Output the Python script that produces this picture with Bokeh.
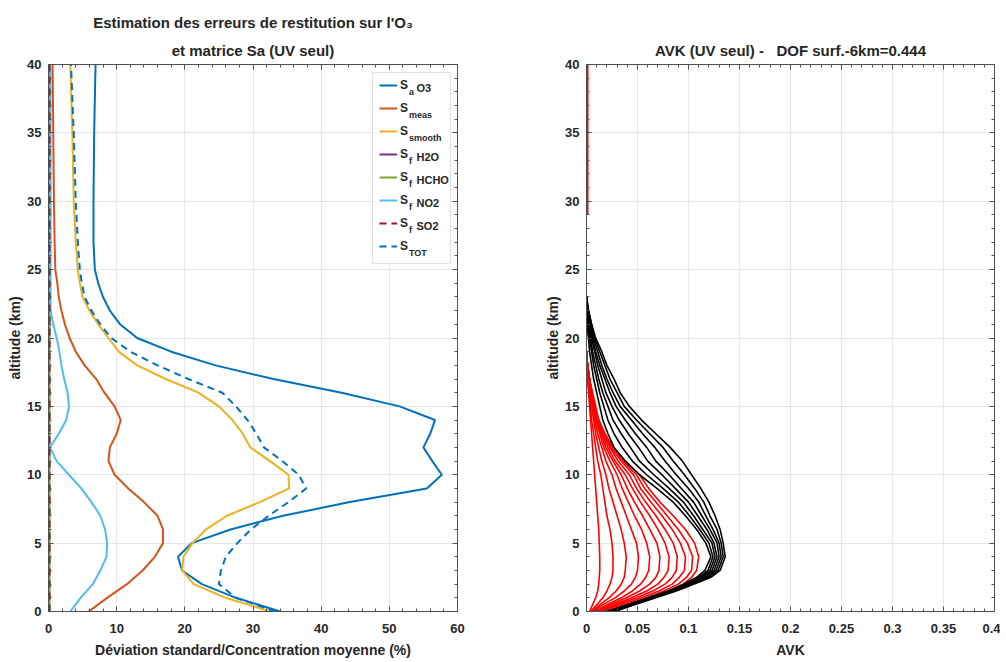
from bokeh.plotting import figure
from bokeh.layouts import row
from bokeh.models import (Range1d, LinearAxis, Legend, LegendItem, Label, Title, BoxAnnotation,
                          SingleIntervalTicker, NumeralTickFormatter, CustomJSTickFormatter)
from bokeh.embed import file_html
from bokeh.resources import INLINE

# ---------------- data : left panel (errors, %) ----------------
altitude_km = [0, 1, 2, 3, 4, 5, 6, 7, 8, 9, 10, 11, 12, 13, 14, 15, 16, 17, 18, 19,
               20, 21, 22, 23, 24, 25, 27, 30, 35, 40]
sa_o3 = [34.0, 27.5, 22.5, 19.6, 19.0, 21.0, 26.7, 34.4, 44.2, 55.5, 57.7, 56.3, 55.0, 56.0,
         56.7, 51.5, 43.0, 33.0, 24.5, 18.0, 13.0, 10.5, 9.0, 8.0, 7.3, 6.8, 6.6, 6.6, 6.7, 6.9]
s_meas = [5.9, 8.6, 11.5, 13.8, 15.6, 16.8, 16.8, 16.0, 14.0, 11.7, 9.7, 8.8, 9.0, 10.0,
          10.6, 9.7, 8.2, 7.0, 5.3, 4.0, 3.1, 2.4, 1.9, 1.5, 1.3, 1.0, 0.9, 0.8, 0.7, 0.6]
s_smooth = [32.6, 26.0, 21.3, 19.6, 19.8, 21.1, 23.1, 26.2, 31.0, 35.3, 35.2, 32.5, 29.6, 28.5,
            27.0, 25.0, 22.0, 17.2, 13.0, 10.3, 8.8, 7.3, 6.0, 5.0, 4.6, 4.3, 4.0, 3.7, 3.5, 3.2]
sf_h2o = [0.1, 0.1, 0.1, 0.1, 0.1, 0.1, 0.1, 0.1, 0.1, 0.1, 0.1, 0.1, 0.1, 0.1, 0.1,
          0.1, 0.1, 0.1, 0.1, 0.1, 0.1, 0.1, 0.1, 0.1, 0.1, 0.1, 0.1, 0.1, 0.1, 0.1]
sf_hcho = [0.15, 0.15, 0.15, 0.15, 0.15, 0.15, 0.15, 0.15, 0.15, 0.15, 0.15, 0.15, 0.15, 0.15, 0.15,
           0.15, 0.15, 0.15, 0.15, 0.15, 0.15, 0.15, 0.15, 0.15, 0.15, 0.15, 0.15, 0.15, 0.15, 0.15]
sf_no2 = [3.2, 4.7, 6.5, 7.6, 8.5, 8.6, 8.3, 7.6, 6.3, 4.8, 3.0, 1.2, 0.2, 1.5, 2.6, 3.0,
          2.8, 2.3, 1.9, 1.6, 1.2, 0.7, 0.3, 0.3, 0.3, 0.3, 0.3, 0.3, 0.3, 0.3]
sf_so2 = [0.15, 0.15, 0.15, 0.15, 0.15, 0.15, 0.15, 0.15, 0.15, 0.15, 0.15, 0.15, 0.15, 0.15, 0.15,
          0.15, 0.15, 0.15, 0.15, 0.15, 0.15, 0.15, 0.15, 0.15, 0.15, 0.15, 0.15, 0.15, 0.15, 0.15]
s_tot = [33.3, 27.5, 25.0, 25.3, 26.0, 27.7, 29.7, 32.3, 35.2, 37.8, 36.7, 34.3, 31.6, 30.5,
         29.2, 27.5, 25.5, 20.5, 16.0, 12.0, 9.2, 7.6, 6.3, 5.3, 4.9, 4.6, 4.3, 4.0, 3.7, 3.3]

# ---------------- data : right panel (AVK) ----------------
avk_red_alt = [0, 0.5, 1, 1.5, 2, 2.5, 3, 4, 5, 6, 7, 8, 9, 10, 11, 12, 13, 14, 15, 16, 17, 18, 19]
avk_red = [
    [0.003, 0.006, 0.009, 0.011, 0.012, 0.0125, 0.013, 0.013, 0.0125, 0.012, 0.011, 0.010, 0.009, 0.008, 0.007, 0.006, 0.005, 0.004, 0.003, 0.002, 0.001, 0.0005, 0.0],
    [0.004, 0.010, 0.016, 0.020, 0.023, 0.025, 0.026, 0.026, 0.025, 0.023, 0.020, 0.018, 0.016, 0.014, 0.011, 0.009, 0.007, 0.005, 0.004, 0.003, 0.002, 0.001, 0.0],
    [0.005, 0.013, 0.022, 0.029, 0.034, 0.037, 0.038, 0.039, 0.037, 0.034, 0.030, 0.026, 0.022, 0.019, 0.015, 0.012, 0.009, 0.007, 0.005, 0.003, 0.002, 0.001, 0.0],
    [0.006, 0.016, 0.028, 0.037, 0.044, 0.048, 0.050, 0.051, 0.049, 0.044, 0.039, 0.034, 0.029, 0.025, 0.019, 0.015, 0.011, 0.008, 0.006, 0.004, 0.002, 0.001, 0.0],
    [0.008, 0.020, 0.034, 0.045, 0.053, 0.058, 0.061, 0.062, 0.059, 0.054, 0.047, 0.041, 0.035, 0.030, 0.023, 0.017, 0.013, 0.009, 0.007, 0.004, 0.003, 0.001, 0.0],
    [0.009, 0.023, 0.039, 0.052, 0.062, 0.068, 0.071, 0.072, 0.069, 0.062, 0.055, 0.047, 0.040, 0.034, 0.026, 0.019, 0.014, 0.010, 0.007, 0.005, 0.003, 0.001, 0.0],
    [0.011, 0.027, 0.044, 0.059, 0.070, 0.076, 0.080, 0.081, 0.077, 0.070, 0.062, 0.053, 0.045, 0.038, 0.028, 0.021, 0.015, 0.011, 0.008, 0.005, 0.003, 0.001, 0.0],
    [0.013, 0.030, 0.049, 0.065, 0.077, 0.084, 0.088, 0.089, 0.085, 0.077, 0.068, 0.058, 0.049, 0.042, 0.031, 0.023, 0.016, 0.011, 0.008, 0.005, 0.003, 0.001, 0.0],
    [0.015, 0.034, 0.054, 0.071, 0.084, 0.091, 0.096, 0.097, 0.092, 0.084, 0.074, 0.063, 0.053, 0.046, 0.034, 0.024, 0.017, 0.012, 0.008, 0.005, 0.003, 0.001, 0.0],
    [0.017, 0.038, 0.059, 0.076, 0.090, 0.098, 0.103, 0.104, 0.099, 0.090, 0.079, 0.068, 0.057, 0.049, 0.036, 0.026, 0.018, 0.012, 0.009, 0.006, 0.003, 0.001, 0.0],
    [0.020, 0.045, 0.065, 0.082, 0.095, 0.103, 0.108, 0.110, 0.106, 0.097, 0.085, 0.072, 0.061, 0.052, 0.038, 0.026, 0.018, 0.012, 0.008, 0.005, 0.003, 0.001, 0.0],
]
avk_black_alt = [0, 0.5, 1, 1.5, 2, 2.5, 3, 4, 5, 6, 7, 8, 9, 10, 11, 12, 13, 14, 15, 16, 17,
                 18, 19, 20, 21, 22, 23]
avk_black = [
    [0.020, 0.040, 0.060, 0.080, 0.095, 0.108, 0.116, 0.122, 0.117, 0.108, 0.097, 0.085, 0.069, 0.052, 0.038, 0.027, 0.021, 0.016, 0.013, 0.010, 0.007, 0.005, 0.003, 0.002, 0.0, 0.0, 0.0],
    [0.021, 0.041, 0.061, 0.081, 0.097, 0.110, 0.119, 0.124, 0.120, 0.111, 0.101, 0.090, 0.075, 0.059, 0.045, 0.035, 0.027, 0.021, 0.017, 0.013, 0.010, 0.007, 0.005, 0.003, 0.001, 0.0, 0.0],
    [0.022, 0.042, 0.062, 0.082, 0.098, 0.112, 0.121, 0.126, 0.123, 0.114, 0.105, 0.095, 0.081, 0.066, 0.052, 0.043, 0.034, 0.026, 0.021, 0.016, 0.012, 0.009, 0.006, 0.004, 0.002, 0.0, 0.0],
    [0.023, 0.043, 0.063, 0.083, 0.099, 0.114, 0.123, 0.128, 0.125, 0.118, 0.109, 0.100, 0.087, 0.074, 0.060, 0.051, 0.041, 0.032, 0.025, 0.019, 0.015, 0.011, 0.008, 0.005, 0.002, 0.0, 0.0],
    [0.024, 0.044, 0.064, 0.084, 0.100, 0.116, 0.125, 0.130, 0.128, 0.121, 0.113, 0.105, 0.093, 0.081, 0.068, 0.059, 0.048, 0.038, 0.029, 0.023, 0.018, 0.013, 0.009, 0.006, 0.003, 0.001, 0.0],
    [0.025, 0.045, 0.065, 0.085, 0.102, 0.118, 0.127, 0.132, 0.130, 0.124, 0.117, 0.110, 0.100, 0.088, 0.077, 0.067, 0.055, 0.044, 0.033, 0.026, 0.020, 0.015, 0.011, 0.007, 0.004, 0.001, 0.0],
    [0.026, 0.046, 0.066, 0.086, 0.103, 0.120, 0.129, 0.134, 0.132, 0.128, 0.121, 0.115, 0.106, 0.096, 0.085, 0.075, 0.062, 0.049, 0.037, 0.030, 0.023, 0.018, 0.013, 0.008, 0.005, 0.002, 0.0],
    [0.028, 0.047, 0.068, 0.088, 0.105, 0.122, 0.131, 0.136, 0.134, 0.131, 0.126, 0.120, 0.112, 0.103, 0.094, 0.082, 0.068, 0.054, 0.042, 0.033, 0.027, 0.020, 0.015, 0.009, 0.005, 0.002, 0.0],
]
avk_upper_alt = [29, 40]
avk_upper = [0.001, 0.001]

# ---------------- style ----------------
FONT = "Liberation Sans"
TXT = "#262626"
AX = "#505050"
GRID = "#e6e6e6"
C_BLUE = "#0072BD"
C_ORANGE = "#D95319"
C_YELLOW = "#EDB120"
C_PURPLE = "#7E2F8E"
C_GREEN = "#77AC30"
C_CYAN = "#4DBEEE"
C_DRED = "#A2142F"
H = 660


def cfg_axis(ax, labels=True, label=None, vertical=False):
    ax.axis_line_color = AX
    ax.axis_line_width = 1
    ax.major_tick_in = 5
    ax.major_tick_out = 0
    ax.minor_tick_in = 3
    ax.minor_tick_out = 0
    ax.major_tick_line_color = AX
    ax.minor_tick_line_color = AX
    if labels:
        ax.major_label_text_font = FONT
        ax.major_label_text_font_size = "13px"
        ax.major_label_text_font_style = "bold"
        ax.major_label_text_color = TXT
        ax.major_label_standoff = 7 if vertical else 12
        ax.axis_label = label
        ax.axis_label_text_font = FONT
        ax.axis_label_text_font_size = "14px"
        ax.axis_label_text_font_style = "bold"
        ax.axis_label_text_color = TXT
        ax.axis_label_standoff = 1 if vertical else 6
    else:
        ax.formatter = CustomJSTickFormatter(code="return '';")
        ax.major_label_text_font_size = "1px"
        ax.major_label_standoff = 0
        ax.axis_label = None


def make_fig(width, xr, xint, bl, br):
    p = figure(width=width, height=H, x_range=Range1d(*xr), y_range=Range1d(0, 40),
               output_backend="svg", toolbar_location=None, title=None,
               min_border_left=bl, min_border_right=br, min_border_top=64, min_border_bottom=49)
    p.outline_line_color = AX
    p.background_fill_color = "white"
    p.border_fill_color = "white"
    xb = p.below[0]
    yl = p.left[0]
    xt = SingleIntervalTicker(interval=xint, num_minor_ticks=5)
    yt = SingleIntervalTicker(interval=5, num_minor_ticks=5)
    xb.ticker = xt
    yl.ticker = yt
    p.xgrid[0].ticker = xt
    p.ygrid[0].ticker = yt
    p.xgrid.grid_line_color = GRID
    p.ygrid.grid_line_color = GRID
    top = LinearAxis(ticker=SingleIntervalTicker(interval=xint, num_minor_ticks=5))
    right = LinearAxis(ticker=SingleIntervalTicker(interval=5, num_minor_ticks=5))
    cfg_axis(top, labels=False)
    cfg_axis(right, labels=False)
    p.add_layout(top, "above")
    p.add_layout(right, "right")
    return p, xb, yl


# ---------------- left figure ----------------
p1, xb1, yl1 = make_fig(508, (0, 60), 10, 48, 51)
cfg_axis(xb1, True, "Déviation standard/Concentration moyenne (%)")
cfg_axis(yl1, True, "altitude (km)", vertical=True)
p1.add_layout(Title(text="et matrice Sa (UV seul)", text_font=FONT, text_font_size="15px",
                    text_font_style="bold", text_color=TXT, align="center", standoff=12), "above")
p1.add_layout(Title(text="Estimation des erreurs de restitution sur l'O₃", text_font=FONT,
                    text_font_size="15px", text_font_style="bold", text_color=TXT,
                    align="center", standoff=6), "above")


def lx(px):
    return (px - 48) * 60 / 409


def ly(py):
    return (611 - py) * 40 / 547


# white legend box (behind the legend samples and texts)
p1.add_layout(BoxAnnotation(left=lx(372), right=lx(450), top=ly(72), bottom=ly(263),
                            fill_color="white", fill_alpha=1, line_color="#a0a0a0",
                            line_width=1, level="underlay"))

series = [
    (sa_o3, C_BLUE, "solid", "a", "O3"),
    (s_meas, C_ORANGE, "solid", "meas", ""),
    (s_smooth, C_YELLOW, "solid", "smooth", ""),
    (sf_h2o, C_PURPLE, "solid", "f", "H2O"),
    (sf_hcho, C_GREEN, "solid", "f", "HCHO"),
    (sf_no2, C_CYAN, "solid", "f", "NO2"),
    (sf_so2, C_DRED, "7 5", "f", "SO2"),
    (s_tot, C_BLUE, "7 5", "TOT", ""),
]
items = []
for vals, col, dash, sub, suf in series:
    r = p1.line(vals, altitude_km, line_color=col, line_width=2, line_dash=dash)
    items.append(LegendItem(label="S", renderers=[r]))

legend = Legend(items=items, location="top_right", margin=11, padding=5, spacing=3,
                glyph_width=18, glyph_height=20, label_height=20, label_width=46,
                label_standoff=3, label_text_font=FONT, label_text_font_size="12px",
                label_text_font_style="bold", label_text_color=TXT,
                border_line_color=None, background_fill_alpha=0)
p1.add_layout(legend)

for i, (vals, col, dash, sub, suf) in enumerate(series):
    cy = 87 + 23 * i
    p1.add_layout(Label(x=lx(408.5), y=ly(cy + 4), text=sub, text_font=FONT,
                        text_font_size="9px", text_font_style="bold", text_color=TXT,
                        text_baseline="middle", text_align="left"))
    if suf:
        p1.add_layout(Label(x=lx(416), y=ly(cy), text=suf, text_font=FONT,
                            text_font_size="11px", text_font_style="bold", text_color=TXT,
                            text_baseline="middle", text_align="left"))

# ---------------- right figure ----------------
p2, xb2, yl2 = make_fig(492, (0, 0.4), 0.05, 78, 6)
cfg_axis(xb2, True, "AVK")
cfg_axis(yl2, True, "altitude (km)", vertical=True)
xb2.formatter = NumeralTickFormatter(format="0.[00]")
p2.add_layout(Title(text="AVK (UV seul) -\u00a0\u00a0 DOF surf.-6km=0.444", text_font=FONT,
                    text_font_size="15px", text_font_style="bold", text_color=TXT,
                    align="center", standoff=12), "above")

for curve in avk_red:
    p2.line(curve, avk_red_alt, line_color="#FF0000", line_width=1.6)
for curve in avk_black:
    p2.line(curve, avk_black_alt, line_color="#000000", line_width=1.6)
p2.line(avk_upper, avk_upper_alt, line_color="#FF0000", line_width=2)

layout = row(p1, p2)
open("out.html", "w").write(file_html(layout, INLINE))
